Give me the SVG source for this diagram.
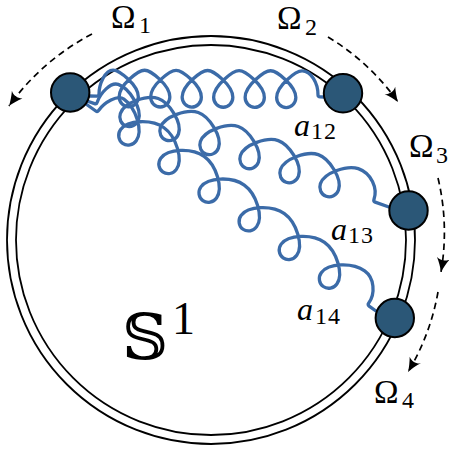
<svg xmlns="http://www.w3.org/2000/svg" width="449" height="452" viewBox="0 0 449 452">
<defs>
<style>
.ring{fill:none;stroke:#000;stroke-width:1.8}
.dash{fill:none;stroke:#000;stroke-width:1.7;stroke-dasharray:6.5 4.5}
.gluon{fill:none;stroke:#3b6ba8;stroke-width:3.3;stroke-linejoin:round;stroke-linecap:round}
.node{fill:#2b5777;stroke:#000;stroke-width:2}
.lbl{font-family:"Liberation Serif","Times New Roman",serif;font-size:33px;fill:#000}
.it{font-style:italic;font-size:32px}
.sub{font-size:24px}
.ds{font-family:"DejaVu Serif","DejaVu Sans","Noto Sans",serif;font-size:64px}
.sup{font-size:46px}
</style>
<marker id="ah" markerUnits="userSpaceOnUse" markerWidth="20" markerHeight="20" refX="15" refY="8" orient="auto" overflow="visible">
<path d="M15,8 C11,6.8 5,4 1,1.5 C4,5.5 4,10.5 1,14.5 C5,12 11,9.2 15,8 Z" fill="#000"/>
</marker>
</defs>
<rect width="449" height="452" fill="#fff"/>
<g id="circle">
<circle class="ring" cx="211" cy="240" r="204"/>
<circle class="ring" cx="211" cy="240" r="195"/>
</g>
<g id="connectors">
<path class="dash" d="M92,34 A238,238 0 0 0 9,106" marker-end="url(#ah)"/>
<path class="dash" d="M328,37 A234,234 0 0 1 398,102" marker-end="url(#ah)"/>
<path class="dash" d="M438,178 A234,234 0 0 1 441,272" marker-end="url(#ah)"/>
<path class="dash" d="M438,292 A234,234 0 0 1 408,372" marker-end="url(#ah)"/>
<g id="a12" transform="translate(89,96) rotate(0.24)">
<path class="gluon" d="M0,0 l8,0 q2,0 2,-2 c0,-10 6,-24 14,-24
c6,0 25.35,14.7 25.35,26.7 a9.6,10 0 0 1 -19.2,0 c0,-12 19.35,-26.7 25.35,-26.7
c6,0 25.35,14.7 25.35,26.7 a9.6,10 0 0 1 -19.2,0 c0,-12 19.35,-26.7 25.35,-26.7
c6,0 25.35,14.7 25.35,26.7 a9.6,10 0 0 1 -19.2,0 c0,-12 19.35,-26.7 25.35,-26.7
c6,0 25.35,14.7 25.35,26.7 a9.6,10 0 0 1 -19.2,0 c0,-12 19.35,-26.7 25.35,-26.7
c6,0 25.35,14.7 25.35,26.7 a9.6,10 0 0 1 -19.2,0 c0,-12 19.35,-26.7 25.35,-26.7
c6,0 25.35,14.7 25.35,26.7 a9.6,10 0 0 1 -19.2,0 c0,-12 19.35,-26.7 25.35,-26.7
c8.8,0 16,12 16,24 q0,2 2,2 l4,0"/>
</g>
<g id="a13" transform="translate(87,101) rotate(19.34)">
<path class="gluon" d="M0,0 l8,0 q2,0 2,-2 c0,-10 6,-24 14,-24
c11.45,0 30.8,14.7 30.8,26.7 a9.6,10 0 0 1 -19.2,0 c0,-12 19.35,-26.7 30.8,-26.7
c11.45,0 30.8,14.7 30.8,26.7 a9.6,10 0 0 1 -19.2,0 c0,-12 19.35,-26.7 30.8,-26.7
c11.45,0 30.8,14.7 30.8,26.7 a9.6,10 0 0 1 -19.2,0 c0,-12 19.35,-26.7 30.8,-26.7
c11.45,0 30.8,14.7 30.8,26.7 a9.6,10 0 0 1 -19.2,0 c0,-12 19.35,-26.7 30.8,-26.7
c11.45,0 30.8,14.7 30.8,26.7 a9.6,10 0 0 1 -19.2,0 c0,-12 19.35,-26.7 30.8,-26.7
c11.45,0 30.8,14.7 30.8,26.7 a9.6,10 0 0 1 -19.2,0 c0,-12 19.35,-26.7 30.8,-26.7
c13.75,0 25,12 25,24 q0,2 2,2 l14.6,0"/>
</g>
<g id="a14" transform="translate(86,104) rotate(35.52)">
<path class="gluon" d="M0,0 l12,0 q2,0 2,-2 c0,-10 6,-24 14,-24
c14.9,0 34.25,14.7 34.25,26.7 a9.6,10 0 0 1 -19.2,0 c0,-12 19.35,-26.7 34.25,-26.7
c14.9,0 34.25,14.7 34.25,26.7 a9.6,10 0 0 1 -19.2,0 c0,-12 19.35,-26.7 34.25,-26.7
c14.9,0 34.25,14.7 34.25,26.7 a9.6,10 0 0 1 -19.2,0 c0,-12 19.35,-26.7 34.25,-26.7
c14.9,0 34.25,14.7 34.25,26.7 a9.6,10 0 0 1 -19.2,0 c0,-12 19.35,-26.7 34.25,-26.7
c14.9,0 34.25,14.7 34.25,26.7 a9.6,10 0 0 1 -19.2,0 c0,-12 19.35,-26.7 34.25,-26.7
c14.9,0 34.25,14.7 34.25,26.7 a9.6,10 0 0 1 -19.2,0 c0,-12 19.35,-26.7 34.25,-26.7
c12,0 22,12 22,24 q0,2 2,2 l8.5,0"/>
</g>
</g>
<g id="node1"><circle class="node" cx="70.2" cy="92.5" r="19.2"/></g>
<g id="node2"><circle class="node" cx="343" cy="93.3" r="19.2"/></g>
<g id="node3"><circle class="node" cx="408.5" cy="210.5" r="19.2"/></g>
<g id="node4"><circle class="node" cx="394.8" cy="318" r="19.2"/></g>
<g id="labels">
<text class="lbl"><tspan x="111" y="28">Ω</tspan><tspan class="sub" x="139" y="33">1</tspan></text>
<text class="lbl"><tspan x="277" y="29">Ω</tspan><tspan class="sub" x="305" y="35">2</tspan></text>
<text class="lbl"><tspan x="409" y="157">Ω</tspan><tspan class="sub" x="436" y="163">3</tspan></text>
<text class="lbl"><tspan x="374" y="403">Ω</tspan><tspan class="sub" x="402" y="408">4</tspan></text>
<text class="lbl"><tspan class="it" x="294" y="136">a</tspan><tspan class="sub" x="311" y="139" letter-spacing="1">12</tspan></text>
<text class="lbl"><tspan class="it" x="331" y="240">a</tspan><tspan class="sub" x="348" y="243" letter-spacing="1">13</tspan></text>
<text class="lbl"><tspan class="it" x="297" y="320">a</tspan><tspan class="sub" x="315" y="324" letter-spacing="1">14</tspan></text>
<text class="lbl"><tspan class="ds" x="122" y="360">𝕊</tspan><tspan class="sup" x="172" y="334">1</tspan></text>
</g>
</svg>
